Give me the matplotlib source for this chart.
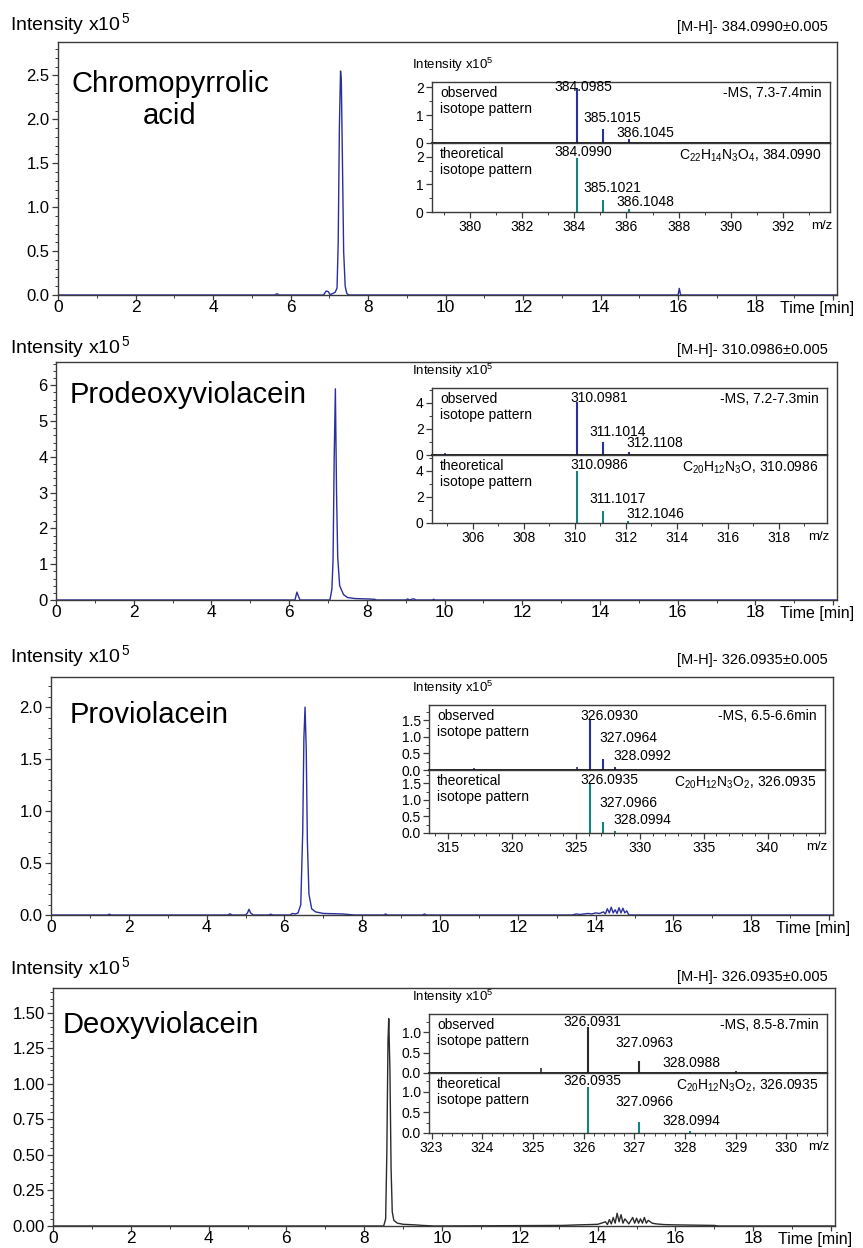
import numpy as np
import matplotlib
matplotlib.use('Agg')
import matplotlib.pyplot as plt
from matplotlib.ticker import MultipleLocator, FormatStrFormatter

plt.rcParams['font.family'] = ['Liberation Sans', 'DejaVu Sans']
plt.rcParams['mathtext.fontset'] = 'custom'
plt.rcParams['mathtext.rm'] = 'Liberation Sans'
plt.rcParams['mathtext.it'] = 'Liberation Sans:italic'
plt.rcParams['mathtext.bf'] = 'Liberation Sans:bold'

# ---- chromatograms (time in min, intensity x10^5) ----
names = ['Chromopyrrolic\nacid', 'Prodeoxyviolacein', 'Proviolacein', 'Deoxyviolacein']
eic_titles = ['[M-H]- 384.0990\u00b10.005', '[M-H]- 310.0986\u00b10.005',
              '[M-H]- 326.0935\u00b10.005', '[M-H]- 326.0935\u00b10.005']

t1 = [0, 5.6, 5.63, 5.67, 5.7, 6.85, 6.92, 6.97, 7.02, 7.08, 7.15, 7.2, 7.23, 7.26, 7.29,
      7.31, 7.34, 7.37, 7.41, 7.45, 7.5, 16.0, 16.03, 16.06, 16.09, 20.1]
i1 = [0, 0, 0.012, 0.012, 0, 0, 0.045, 0.04, 0.005, 0.015, 0.03, 0.08, 0.6, 1.9, 2.55,
      2.45, 1.5, 0.5, 0.1, 0.02, 0, 0, 0.075, 0.01, 0, 0]

t2 = [0, 6.15, 6.2, 6.24, 6.28, 7.05, 7.1, 7.13, 7.16, 7.19, 7.22, 7.25, 7.3, 7.4, 7.5,
      7.7, 8.0, 8.2, 8.25, 9.0, 9.05, 9.1, 9.18, 9.22, 9.26, 9.68, 9.72, 9.76, 20.1]
i2 = [0, 0, 0.22, 0.1, 0, 0, 0.3, 1.1, 4.0, 5.9, 3.0, 1.2, 0.4, 0.15, 0.07,
      0.04, 0.03, 0.02, 0, 0, 0.03, 0, 0.03, 0.03, 0, 0, 0.02, 0, 0]

t3 = [0, 1.45, 1.5, 1.55, 4.55, 4.6, 4.65, 5.0, 5.05, 5.09, 5.13, 5.2, 5.6, 5.65, 5.7,
      6.15, 6.2, 6.28, 6.35, 6.42, 6.47, 6.5, 6.53, 6.56, 6.59, 6.63, 6.7, 6.8, 7.0, 7.5,
      7.8, 8.55, 8.6, 8.65, 9.55, 9.6, 9.65, 13.4, 13.5, 13.6, 13.7, 13.8, 13.9, 14.0, 14.1,
      14.2, 14.25, 14.3, 14.35, 14.4, 14.45, 14.5, 14.55, 14.6, 14.65, 14.7, 14.75, 14.8,
      14.85, 20.1]
i3 = [0, 0, 0.008, 0, 0, 0.012, 0, 0, 0.02, 0.055, 0.02, 0, 0, 0.008, 0,
      0, 0.015, 0.01, 0.02, 0.1, 0.8, 1.7, 2.0, 1.6, 0.7, 0.2, 0.06, 0.03, 0.015, 0.01,
      0, 0, 0.01, 0, 0, 0.01, 0, 0, 0.01, 0.005, 0.01, 0.015, 0.01, 0.02, 0.015,
      0.03, 0.01, 0.06, 0.02, 0.075, 0.02, 0.05, 0.015, 0.07, 0.02, 0.065, 0.02, 0.04,
      0, 0]

t4 = [0, 8.5, 8.55, 8.58, 8.61, 8.63, 8.66, 8.69, 8.72, 8.76, 8.85, 9.0, 9.3, 9.5, 9.8,
      13.1, 13.5, 13.8, 14.0, 14.1, 14.2, 14.25, 14.3, 14.35, 14.4, 14.45, 14.5, 14.55,
      14.6, 14.65, 14.7, 14.8, 14.9, 14.95, 15.0, 15.05, 15.1, 15.15, 15.2, 15.25, 15.3,
      15.4, 15.5, 15.7, 16.0, 16.5, 17.0, 17.1, 20.1]
i4 = [0, 0, 0.05, 0.5, 1.3, 1.46, 1.1, 0.4, 0.1, 0.04, 0.02, 0.012, 0.008, 0.004, 0,
      0.004, 0.008, 0.01, 0.012, 0.02, 0.03, 0.01, 0.045, 0.015, 0.06, 0.02, 0.09, 0.03,
      0.08, 0.02, 0.05, 0.015, 0.06, 0.02, 0.055, 0.02, 0.05, 0.02, 0.06, 0.02, 0.04,
      0.02, 0.015, 0.01, 0.008, 0.006, 0.004, 0, 0]

times = [t1, t2, t3, t4]
ints = [i1, i2, i3, i4]

# ---- isotope patterns (m/z, intensity x10^5) ----
ms_titles = ['-MS, 7.3-7.4min', '-MS, 7.2-7.3min', '-MS, 6.5-6.6min', '-MS, 8.5-8.7min']
formulas = ['C$_{22}$H$_{14}$N$_3$O$_4$, 384.0990', 'C$_{20}$H$_{12}$N$_3$O, 310.0986',
            'C$_{20}$H$_{12}$N$_3$O$_2$, 326.0935', 'C$_{20}$H$_{12}$N$_3$O$_2$, 326.0935']

# labelled observed peaks
obs_mz = [[384.0985, 385.1015, 386.1045],
          [310.0981, 311.1014, 312.1108],
          [326.0930, 327.0964, 328.0992],
          [326.0931, 327.0963, 328.0988]]
obs_int = [[1.95, 0.5, 0.15],
           [4.1, 1.0, 0.25],
           [1.5, 0.33, 0.08],
           [1.12, 0.3, 0.02]]
# small unlabelled observed peaks
extra_mz = [[379.0], [304.9], [317.0, 325.1], [325.15, 329.0]]
extra_int = [[0.05], [0.12], [0.06, 0.1], [0.12, 0.05]]
# theoretical pattern
theo_mz = [[384.0990, 385.1021, 386.1048],
           [310.0986, 311.1017, 312.1046],
           [326.0935, 327.0966, 328.0994],
           [326.0935, 327.0966, 328.0994]]
theo_int = [[1.95, 0.45, 0.1],
            [4.0, 0.9, 0.18],
            [1.5, 0.32, 0.07],
            [1.1, 0.27, 0.05]]

# ---- layout (pixels in an 863x1248 canvas) ----
W, H = 863, 1248
main_box = [(58, 837, 42, 295), (56, 837, 362, 600), (51, 833, 677, 915), (53, 835, 988, 1226)]
main_ylim = [2.88, 6.65, 2.29, 1.676]
main_ymaj = [0.5, 1, 0.5, 0.25]
main_ymin = [0.1, 0.2, 0.1, 0.05]
main_fmt = ['%.1f', '%d', '%.1f', '%.2f']
label_y = [24, 347, 656, 968]
title_y = [27, 350, 660, 977]
name_xy = [(170, 100), (70, 395), (70, 715), (63, 1025)]
name_ha = ['center', 'left', 'left', 'left']

inset_box = [(432, 830, 82, 143, 212), (432, 827, 388, 455, 523),
             (429, 825, 705, 770, 833), (429, 827, 1014, 1073, 1133)]
inset_xlim = [(378.55, 393.8), (304.4, 319.9), (313.5, 344.5), (322.95, 330.8)]
inset_ylim = [(2.18, 2.5), (5.15, 5.2), (1.95, 1.9), (1.45, 1.45)]
inset_xmaj = [2, 2, 5, 1]
inset_xmin = [1, 1, 1, 0.2]
inset_ymaj = [1, 2, 0.5, 0.5]
inset_ymin = [0.5, 1, 0.25, 0.25]
inset_fmt = ['%d', '%d', '%.1f', '%.1f']
obs_lab = [[(384.36, 2.0), (385.47, 0.9), (386.73, 0.36)],
           [(310.95, 4.4), (311.7, 1.8), (313.15, 0.9)],
           [(327.6, 1.62), (329.1, 0.96), (330.2, 0.42)],
           [(326.18, 1.25), (327.19, 0.74), (328.13, 0.24)]]
theo_lab = [[(384.36, 2.18), (385.47, 0.87), (386.73, 0.36)],
            [(310.95, 4.4), (311.7, 1.8), (313.15, 0.7)],
            [(327.6, 1.6), (329.1, 0.9), (330.2, 0.39)],
            [(326.18, 1.25), (327.19, 0.75), (328.13, 0.28)]]

line_col = ['#2a2f9c', '#2a2f9c', '#2a2f9c', '#2b2b2b']
theo_col = '#16837d'
frame_col = '#3a3a3a'


def box(x0, x1, y0, y1):
    return [x0 / W, 1 - y1 / H, (x1 - x0) / W, (y1 - y0) / H]


def style(ax, size):
    for s in ax.spines.values():
        s.set_color(frame_col)
        s.set_linewidth(1.0)
    ax.tick_params(which='both', direction='out', color=frame_col, labelsize=size,
                   top=False, right=False)
    ax.tick_params(which='major', length=4, width=0.9, pad=2)
    ax.tick_params(which='minor', length=2.5, width=0.7)


fig = plt.figure(figsize=(W / 100, H / 100), dpi=100)

for k in range(4):
    # chromatogram
    x0, x1, y0, y1 = main_box[k]
    ax = fig.add_axes(box(x0, x1, y0, y1))
    ax.plot(times[k], ints[k], color=line_col[k], lw=1.0)
    ax.set_xlim(0, 20.1)
    ax.set_ylim(0, main_ylim[k])
    ax.set_xticks(np.arange(0, 21, 2))
    ax.set_xticklabels([str(v) for v in range(0, 19, 2)] + [''])
    ax.xaxis.set_minor_locator(MultipleLocator(1))
    ax.yaxis.set_major_locator(MultipleLocator(main_ymaj[k]))
    ax.yaxis.set_minor_locator(MultipleLocator(main_ymin[k]))
    ax.yaxis.set_major_formatter(FormatStrFormatter(main_fmt[k]))
    style(ax, 12)
    ax.tick_params(axis='x', which='major', labelsize=12.5, length=3.5, pad=0)
    ax.annotate('Time [min]', xy=(1, 0), xycoords='axes fraction', xytext=(12, -4.5),
                textcoords='offset points', ha='right', va='top', fontsize=11.5)
    fig.text(10 / W, 1 - label_y[k] / H, 'Intensity x10$^{\\,5}$', fontsize=14,
             va='center', ha='left')
    fig.text(828 / W, 1 - title_y[k] / H, eic_titles[k], fontsize=10.5,
             va='center', ha='right')
    fig.text(name_xy[k][0] / W, 1 - name_xy[k][1] / H, names[k], fontsize=21,
             va='center', ha=name_ha[k], multialignment='center', linespacing=1.15)

    # isotope pattern inset
    a0, a1, b0, bm, b1 = inset_box[k]
    up = fig.add_axes(box(a0, a1, b0, bm))
    lo = fig.add_axes(box(a0, a1, bm, b1), sharex=up)
    up.vlines(obs_mz[k], 0, obs_int[k], color=line_col[k], lw=1.5)
    up.vlines(extra_mz[k], 0, extra_int[k], color=line_col[k], lw=1.2)
    lo.vlines(theo_mz[k], 0, theo_int[k], color=theo_col, lw=1.5)
    up.set_xlim(inset_xlim[k])
    up.set_ylim(0, inset_ylim[k][0])
    lo.set_ylim(0, inset_ylim[k][1])
    lo.xaxis.set_major_locator(MultipleLocator(inset_xmaj[k]))
    lo.xaxis.set_minor_locator(MultipleLocator(inset_xmin[k]))
    for a in (up, lo):
        a.yaxis.set_major_locator(MultipleLocator(inset_ymaj[k]))
        a.yaxis.set_minor_locator(MultipleLocator(inset_ymin[k]))
        a.yaxis.set_major_formatter(FormatStrFormatter(inset_fmt[k]))
        style(a, 10)
    up.tick_params(axis='x', which='both', bottom=False, labelbottom=False)
    up.spines['bottom'].set_linewidth(1.3)
    up.spines['bottom'].set_color('#111111')

    for (mx, my), m in zip(obs_lab[k], obs_mz[k]):
        up.text(mx, my, '%.4f' % m, fontsize=10, ha='center', va='center')
    for (mx, my), m in zip(theo_lab[k], theo_mz[k]):
        lo.text(mx, my, '%.4f' % m, fontsize=10, ha='center', va='center')

    up.annotate('observed\nisotope pattern', xy=(0, 1), xycoords='axes fraction',
                xytext=(6, -3), textcoords='offset points', ha='left', va='top',
                fontsize=10, linespacing=1.2)
    lo.annotate('theoretical\nisotope pattern', xy=(0, 1), xycoords='axes fraction',
                xytext=(6, -3), textcoords='offset points', ha='left', va='top',
                fontsize=10, linespacing=1.2)
    up.annotate(ms_titles[k], xy=(1, 1), xycoords='axes fraction', xytext=(-6, -3),
                textcoords='offset points', ha='right', va='top', fontsize=10)
    lo.annotate(formulas[k], xy=(1, 1), xycoords='axes fraction', xytext=(-6, -3),
                textcoords='offset points', ha='right', va='top', fontsize=10)
    lo.annotate('m/z', xy=(1, 0), xycoords='axes fraction', xytext=(-6, -6),
                textcoords='offset points', ha='center', va='top', fontsize=9.5)
    fig.text(412 / W, 1 - (b0 - 17) / H, 'Intensity x10$^{5}$', fontsize=9.5,
             va='center', ha='left')

fig.savefig('out.png', dpi=100)
